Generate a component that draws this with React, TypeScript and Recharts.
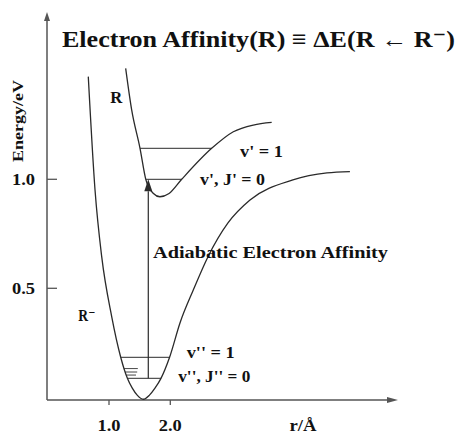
import { ComposedChart, Line, XAxis, YAxis, ReferenceLine, ReferenceDot } from "recharts";

// potential curve of the anion R- (r in Å, E in eV)
const anionR = [0.662, 0.772, 0.881, 1.044, 1.19, 1.3, 1.38, 1.46, 1.56, 1.66, 1.75, 1.848, 1.99, 2.158, 2.375, 2.615, 2.941, 3.3, 4.0, 4.556, 4.93];
const anionE = [1.471, 0.951, 0.645, 0.37, 0.185, 0.087, 0.042, 0.01, -0.009, 0.01, 0.042, 0.087, 0.185, 0.341, 0.492, 0.645, 0.8, 0.905, 0.997, 1.029, 1.035];

// potential curve of the neutral R
const neutralR = [1.272, 1.37, 1.506, 1.6, 1.72, 1.83, 1.98, 2.186, 2.675, 3.028, 3.354, 3.654];
const neutralE = [1.509, 1.318, 1.142, 1.0, 0.936, 0.92, 0.935, 1.0, 1.142, 1.218, 1.249, 1.261];

// vibrational levels
const levelNames = ["v' = 1", "v', J' = 0", "v'' = 1", "v'', J'' = 0"];
const levelE = [1.142, 1.0, 0.183, 0.087];
const levelStart = [1.506, 1.6, 1.19, 1.3];
const levelEnd = [2.675, 2.186, 1.99, 1.848];

// short rotational levels
const rotE = [0.132, 0.116, 0.102];
const rotStart = [1.245, 1.262, 1.28];
const rotEnd = [1.47, 1.46, 1.44];

const rTicks = [1.0, 2.0];
const eTicks = [0.5, 1.0];
const arrowR = 1.641;

const X_MIN = -0.0114;
const X_MAX = 5.7146;
const Y_MIN = -0.0124;
const Y_MAX = 1.7674;

const FONT = '"Liberation Serif", "DejaVu Serif", serif';
const INK = "#111";
const LINE = "#2a2a2a";
const AXIS = "#555";

const anionData = anionR.map((r, i) => ({ r, e: anionE[i] }));
const neutralData = neutralR.map((r, i) => ({ r, e: neutralE[i] }));

const notes = [
  { text: "Electron Affinity(R) \u2261  \u0394E(R \u2190 R\u207B)", r: 0.233, e: 1.607, size: 23, len: 393 },
  { text: "Energy/eV", r: -0.484, e: 1.267, size: 15, len: 82, rotate: true },
  { text: "R", r: 1.02, e: 1.348, size: 16, len: 12 },
  { text: levelNames[0], r: 3.137, e: 1.102, size: 16, len: 43 },
  { text: levelNames[1], r: 2.485, e: 0.976, size: 16, len: 65 },
  { text: "Adiabatic Electron Affinity", r: 1.718, e: 0.637, size: 17, len: 235 },
  { text: "R\u207B", r: 0.5, e: 0.348, size: 16, len: 17 },
  { text: levelNames[2], r: 2.268, e: 0.178, size: 16, len: 48 },
  { text: levelNames[3], r: 2.13, e: 0.069, size: 16, len: 72 },
  { text: "r/\u00C5", r: 4.165, e: -0.155, size: 16, len: 27, anchor: "middle" },
];

const arrowShape = (head: number, half: number, color: string, width: number) => (p: any) => {
  const { x1, y1, x2, y2 } = p;
  const dx = x2 - x1;
  const dy = y2 - y1;
  const len = Math.hypot(dx, dy) || 1;
  const ux = dx / len;
  const uy = dy / len;
  const bx = x2 - ux * head;
  const by = y2 - uy * head;
  return (
    <g>
      <line x1={x1} y1={y1} x2={bx} y2={by} stroke={color} strokeWidth={width} />
      <polygon
        points={`${x2},${y2} ${bx - uy * half},${by + ux * half} ${bx + uy * half},${by - ux * half}`}
        fill={color}
      />
    </g>
  );
};

const textShape = (n: any) => (p: any) => (
  <text
    x={p.cx}
    y={p.cy}
    textAnchor={n.rotate ? "middle" : n.anchor || "start"}
    dominantBaseline={n.rotate ? "central" : "alphabetic"}
    transform={n.rotate ? `rotate(-90 ${p.cx} ${p.cy})` : undefined}
    fontFamily={FONT}
    fontWeight="bold"
    fontSize={n.size}
    textLength={n.len}
    lengthAdjust="spacingAndGlyphs"
    fill={INK}
  >
    {n.text}
  </text>
);

const XTick = (p: any) => (
  <g>
    <line x1={p.x} x2={p.x} y1={p.y} y2={p.y + 5} stroke={AXIS} strokeWidth={1.3} />
    <text x={p.x} y={p.y + 31} textAnchor="middle" fontFamily={FONT} fontWeight="bold" fontSize={16} textLength={23} lengthAdjust="spacingAndGlyphs" fill={INK}>
      {p.payload.value.toFixed(1)}
    </text>
  </g>
);

const YTick = (p: any) => (
  <g>
    <line x1={p.x} x2={p.x + 10} y1={p.y} y2={p.y} stroke={AXIS} strokeWidth={1.3} />
    <text x={p.x - 12} y={p.y + 5.5} textAnchor="end" fontFamily={FONT} fontWeight="bold" fontSize={16} textLength={23} lengthAdjust="spacingAndGlyphs" fill={INK}>
      {p.payload.value.toFixed(1)}
    </text>
  </g>
);

export default function App() {
  return (
    <div style={{ position: "absolute", left: 0, top: 0 }}>
      <ComposedChart width={457} height={433} margin={{ top: 12, right: 59, bottom: 0, left: 0 }}>
        <XAxis
          type="number"
          dataKey="r"
          domain={[X_MIN, X_MAX]}
          allowDataOverflow
          ticks={rTicks}
          interval={0}
          axisLine={false}
          tickLine={false}
          tickSize={0}
          tickMargin={0}
          height={33}
          tick={XTick}
        />
        <YAxis
          type="number"
          domain={[Y_MIN, Y_MAX]}
          allowDataOverflow
          ticks={eTicks}
          interval={0}
          axisLine={false}
          tickLine={false}
          tickSize={0}
          tickMargin={0}
          width={47}
          tick={YTick}
        />
        <ReferenceLine
          segment={[{ x: X_MIN, y: Y_MIN }, { x: X_MIN, y: Y_MAX }]}
          ifOverflow="visible"
          shape={arrowShape(9, 3, AXIS, 1.5)}
        />
        <ReferenceLine
          segment={[{ x: X_MIN, y: Y_MIN }, { x: X_MAX, y: Y_MIN }]}
          ifOverflow="visible"
          shape={arrowShape(11, 3, AXIS, 1.5)}
        />
        {levelE.map((e, i) => (
          <ReferenceLine
            key={`lv${i}`}
            segment={[{ x: levelStart[i], y: e }, { x: levelEnd[i], y: e }]}
            stroke={AXIS}
            strokeWidth={1.2}
            ifOverflow="visible"
          />
        ))}
        {rotE.map((e, i) => (
          <ReferenceLine
            key={`rot${i}`}
            segment={[{ x: rotStart[i], y: e }, { x: rotEnd[i], y: e }]}
            stroke={AXIS}
            strokeWidth={1.1}
            ifOverflow="visible"
          />
        ))}
        <ReferenceLine
          segment={[{ x: arrowR, y: levelE[3] }, { x: arrowR, y: levelE[1] }]}
          ifOverflow="visible"
          shape={arrowShape(12, 4, LINE, 1.2)}
        />
        <Line data={anionData} dataKey="e" type="monotone" stroke={LINE} strokeWidth={1.3} dot={false} isAnimationActive={false} />
        <Line data={neutralData} dataKey="e" type="monotone" stroke={LINE} strokeWidth={1.3} dot={false} isAnimationActive={false} />
        {notes.map((n, i) => (
          <ReferenceDot key={`n${i}`} x={n.r} y={n.e} r={0} ifOverflow="visible" shape={textShape(n)} />
        ))}
      </ComposedChart>
    </div>
  );
}
